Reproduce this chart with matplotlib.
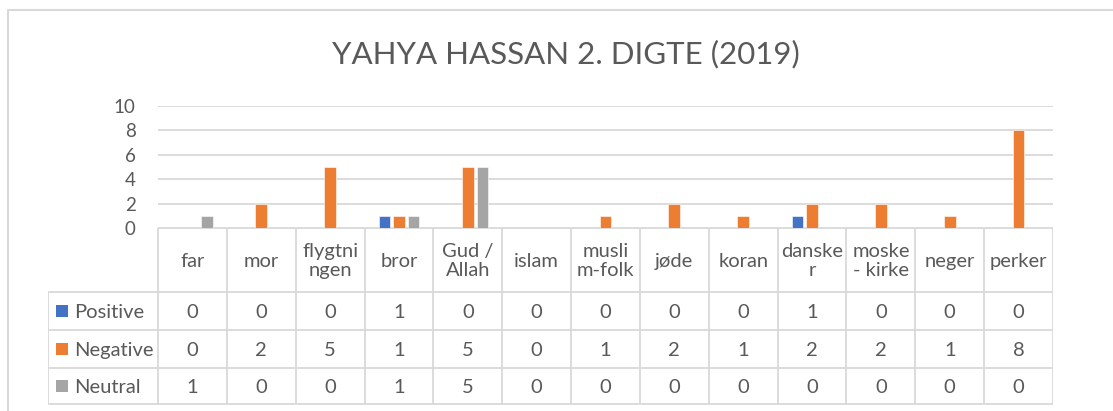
import numpy as np
import matplotlib
matplotlib.use('Agg')
import matplotlib.pyplot as plt

plt.rcParams['font.family'] = ['Lato', 'DejaVu Sans']

TITLE = 'YAHYA HASSAN 2. DIGTE (2019)'
CATEGORIES = ['far', 'mor', 'flygtni\nngen', 'bror', 'Gud /\nAllah', 'islam',
              'musli\nm-folk', 'jøde', 'koran', 'danske\nr', 'moske\n- kirke',
              'neger', 'perker']
SERIES = ['Positive', 'Negative', 'Neutral']
POSITIVE = [0, 0, 0, 1, 0, 0, 0, 0, 0, 1, 0, 0, 0]
NEGATIVE = [0, 2, 5, 1, 5, 0, 1, 2, 1, 2, 2, 1, 8]
NEUTRAL = [1, 0, 0, 1, 5, 0, 0, 0, 0, 0, 0, 0, 0]
COLORS = ['#4472C4', '#ED7D31', '#A5A5A5']

TXT = '#595959'
GRID = '#D9D9D9'

W, H = 1113, 411
fig = plt.figure(figsize=(W / 100, H / 100), dpi=100)


def px_axes(x0, y0, x1, y1):
    # pixel box (top-left origin) -> figure axes
    return fig.add_axes([x0 / W, 1 - y1 / H, (x1 - x0) / W, (y1 - y0) / H])


# outer chart frame (cropped at right / bottom)
frame = px_axes(0, 0, W, H)
frame.set_xlim(0, W)
frame.set_ylim(H, 0)
frame.set_axis_off()
frame.plot([7.5, 7.5, W + 5], [H + 5, 10.5, 10.5], color=GRID, lw=1.5)

frame.text(566, 54, TITLE, fontsize=22.5, color=TXT, ha='center', va='center')

# bar area
ax = px_axes(158, 106, 1053, 228)
n = len(CATEGORIES)
x = np.arange(n)
vals = [POSITIVE, NEGATIVE, NEUTRAL]
bw = 0.17
off = 0.212
for i, (v, c) in enumerate(zip(vals, COLORS)):
    ax.bar(x + (i - 1) * off, v, width=bw, color=c, edgecolor='white',
           linewidth=0.4, zorder=3)
ax.set_xlim(-0.5, n - 0.5)
ax.set_ylim(0, 10)
ax.set_yticks(range(0, 11, 2))
ax.yaxis.grid(True, color=GRID, lw=1.3)
ax.set_axisbelow(True)
ax.set_xticks([])
for s in ax.spines.values():
    s.set_visible(False)
ax.tick_params(axis='y', length=0, labelsize=13.5, labelcolor=TXT, pad=16)

# data table
tb = px_axes(48, 228, 1053, 405)
tb.set_axis_off()
cw = (1053 - 158) / n
x0 = 158
tb.set_xlim(48, 1053)
tb.set_ylim(405, 228)
rows = [228, 292, 330, 368, 404]
lw = 1.3
tb.plot([x0, 1053], [rows[0], rows[0]], color=GRID, lw=lw)
for r in rows[1:]:
    tb.plot([48, 1053], [r, r], color=GRID, lw=lw)
tb.plot([48, 48], [rows[1], rows[-1]], color=GRID, lw=lw)
for k in range(n + 1):
    xx = x0 + k * cw
    tb.plot([xx, xx], [rows[0], rows[-1]], color=GRID, lw=lw)

for k, cat in enumerate(CATEGORIES):
    cx = x0 + (k + 0.5) * cw
    tb.text(cx, (rows[0] + rows[1]) / 2 + 1, cat, fontsize=14.5, color=TXT,
            ha='center', va='center', linespacing=1.2)
    for j, v in enumerate(vals):
        tb.text(cx, (rows[j + 1] + rows[j + 2]) / 2 + 1, str(v[k]),
                fontsize=14.5, color=TXT, ha='center', va='center')

for j, (name, c) in enumerate(zip(SERIES, COLORS)):
    cy = (rows[j + 1] + rows[j + 2]) / 2
    tb.scatter([62], [cy], marker='s', s=85, color=c, linewidths=0)
    tb.text(74, cy + 1, name, fontsize=14.5, color=TXT, ha='left', va='center')

fig.savefig('out.png', dpi=100)
